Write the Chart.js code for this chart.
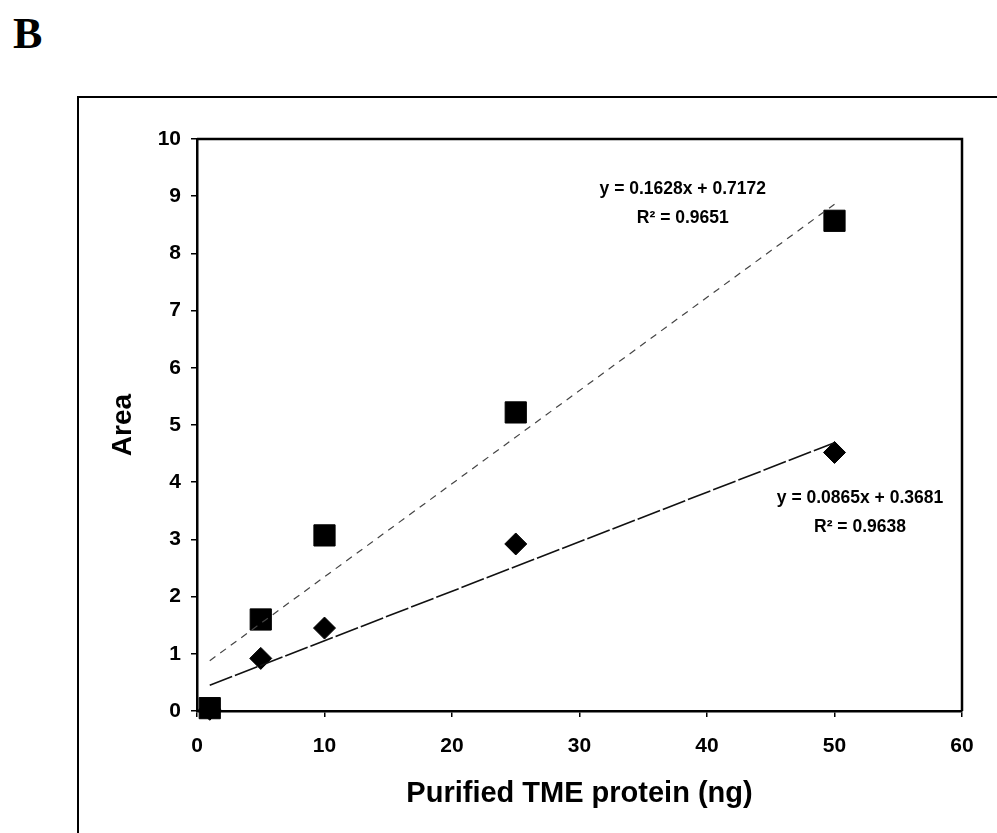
<!DOCTYPE html>
<html>
<head>
<meta charset="utf-8">
<script src="https://cdn.jsdelivr.net/npm/chart.js@4.4.1/dist/chart.umd.min.js"></script>
<style>
  html, body { margin: 0; padding: 0; background: #fff; overflow: hidden; }
  #wrap { position: relative; width: 997px; height: 833px; }
  #panel { position: absolute; left: 13px; top: 8px; font: bold 44px "Liberation Serif", "DejaVu Serif", serif; color: #000; }
  #frame { position: absolute; left: 77px; top: 96px; width: 1000px; height: 800px; border-left: 2px solid #000; border-top: 2px solid #000; }
  canvas { position: absolute; left: 0; top: 0; }
</style>
</head>
<body>
<div id="wrap">
  <div id="panel">B</div>
  <div id="frame"></div>
  <canvas id="chart" width="997" height="833"></canvas>
</div>
<script>
// values
const protein   = [1, 5, 10, 25, 50];
const areaHigh  = [0.05, 1.6, 3.07, 5.22, 8.57];   // squares
const areaLow   = [0.03, 0.92, 1.45, 2.92, 4.52];  // diamonds

// trendline end points (x = 1 and x = 50)
const trendX    = [1, 50];
const trendHigh = [0.88, 8.86];
const trendLow  = [0.45, 4.69];

const eqHigh = ['y = 0.1628x + 0.7172', 'R² = 0.9651'];
const eqLow  = ['y = 0.0865x + 0.3681', 'R² = 0.9638'];

const xTicks = [0, 10, 20, 30, 40, 50, 60];
const yTicks = [0, 1, 2, 3, 4, 5, 6, 7, 8, 9, 10];

const pts = (xs, ys) => xs.map((x, i) => ({ x, y: ys[i] }));
const FONT = '"Liberation Sans", Arial, sans-serif';

// equations + R² labels, placed in data units
const labelPlugin = {
  id: 'eqLabels',
  afterDatasetsDraw(chart) {
    const { ctx, scales: { x, y } } = chart;
    ctx.save();
    ctx.fillStyle = '#000';
    ctx.textAlign = 'center';
    ctx.textBaseline = 'middle';
    ctx.font = 'bold 17.5px ' + FONT;
    const put = (lines, cx, cy) => {
      lines.forEach((t, i) => ctx.fillText(t, x.getPixelForValue(cx), y.getPixelForValue(cy) + i * 29));
    };
    put(eqHigh, 38.1, 9.13);
    put(eqLow, 52.0, 3.72);
    ctx.restore();
  }
};

new Chart(document.getElementById('chart'), {
  type: 'scatter',
  data: {
    datasets: [
      {
        type: 'line', data: pts(trendX, trendHigh),
        borderColor: '#444', borderWidth: 1.2, borderDash: [7, 6],
        pointRadius: 0, fill: false
      },
      {
        type: 'line', data: pts(trendX, trendLow),
        borderColor: '#111', borderWidth: 1.6, borderDash: [24, 3],
        pointRadius: 0, fill: false
      },
      {
        data: pts(protein, areaLow), clip: false,
        pointStyle: 'rectRot', pointRadius: 11, pointHoverRadius: 11,
        backgroundColor: '#000', borderColor: '#000'
      },
      {
        data: pts(protein, areaHigh), clip: false,
        pointStyle: 'rect', pointRadius: 15, pointHoverRadius: 15,
        backgroundColor: '#000', borderColor: '#000'
      }
    ]
  },
  options: {
    responsive: false,
    animation: false,
    events: [],
    layout: { padding: { left: 100, right: 35, top: 139, bottom: 22 } },
    plugins: { legend: { display: false }, tooltip: { enabled: false } },
    scales: {
      x: {
        type: 'linear', min: 0, max: 60,
        afterBuildTicks: s => { s.ticks = xTicks.map(v => ({ value: v })); },
        afterFit: s => { s.height = 100; },
        border: { display: true, color: '#000', width: 2.5 },
        grid: { drawOnChartArea: false, drawTicks: true, tickLength: 6, color: '#000', lineWidth: 1.5 },
        ticks: { color: '#000', padding: 17, font: { family: FONT, size: 21, weight: 'bold' } },
        title: { display: true, text: 'Purified TME protein (ng)', color: '#000', padding: { top: 9, bottom: 0 },
                 font: { family: FONT, size: 29, weight: 'bold' } }
      },
      y: {
        type: 'linear', min: 0, max: 10,
        afterBuildTicks: s => { s.ticks = yTicks.map(v => ({ value: v })); },
        afterFit: s => { s.width = 97; },
        border: { display: true, color: '#000', width: 2.5 },
        grid: { drawOnChartArea: false, drawTicks: true, tickLength: 6, color: '#000', lineWidth: 1.5 },
        ticks: { color: '#000', padding: 10, font: { family: FONT, size: 21, weight: 'bold' } },
        title: { display: true, text: 'Area', color: '#000', padding: { top: 6, bottom: 0 },
                 font: { family: FONT, size: 28, weight: 'bold' } }
      }
    }
  },
  plugins: [labelPlugin, {
    id: 'plotBox',
    afterDraw(chart) {
      const { ctx, chartArea: a } = chart;
      ctx.save();
      ctx.strokeStyle = '#000';
      ctx.lineWidth = 2.5;
      ctx.beginPath();
      ctx.moveTo(a.left, a.top);
      ctx.lineTo(a.right, a.top);
      ctx.lineTo(a.right, a.bottom);
      ctx.stroke();
      ctx.restore();
    }
  }]
});
</script>
</body>
</html>
